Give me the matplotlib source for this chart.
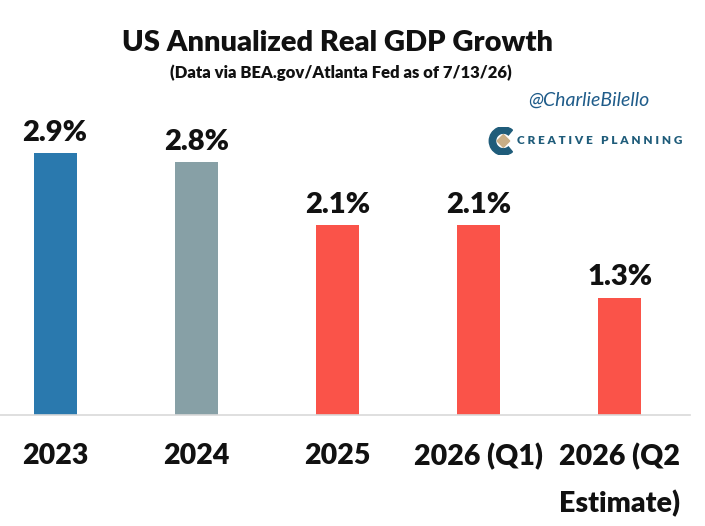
import matplotlib
matplotlib.use("Agg")
import matplotlib.pyplot as plt
from matplotlib.patches import Wedge, Polygon

categories = ["2023", "2024", "2025", "2026 (Q1)", "2026 (Q2\nEstimate)"]
values = [2.9, 2.8, 2.1, 2.1, 1.3]
value_labels = ["2.9%", "2.8%", "2.1%", "2.1%", "1.3%"]
colors = ["#2A79AE", "#87A0A6", "#FA5349", "#FA5349", "#FA5349"]

FONT = ["Lato", "DejaVu Sans"]
W = "heavy"

fig = plt.figure(figsize=(7.05, 5.26), dpi=100)
ax = fig.add_axes([0.0, 0.211, 0.979, 0.601])

x = list(range(len(categories)))
ax.bar(x, values, width=0.305, color=colors, zorder=2)
ax.set_xlim(-0.39, 4.5)
ax.set_ylim(0, 3.5)

for xi, v, lab in zip(x, values, value_labels):
    ax.annotate(lab, (xi, v), xytext=(0, 9), textcoords="offset points",
                ha="center", va="baseline", fontsize=21, fontweight=W,
                family=FONT, color="#111111")

ax.set_xticks(x)
ax.set_xticklabels(categories, fontsize=20.5, fontweight=W, family=FONT,
                   color="#111111")
for t in ax.get_xticklabels():
    t.set_linespacing(1.9)
ax.tick_params(axis="x", length=0, pad=20)
ax.set_yticks([])
for s in ["left", "right", "top"]:
    ax.spines[s].set_visible(False)
ax.spines["bottom"].set_color("#D9D9D9")
ax.spines["bottom"].set_linewidth(1.2)

fig.text(0.479, 0.918, "US Annualized Real GDP Growth", ha="center", va="center",
         fontsize=21, fontweight=W, family=FONT, color="#111111")
fig.text(0.484, 0.862, "(Data via BEA.gov/Atlanta Fed as of 7/13/26)", ha="center",
         va="center", fontsize=12, fontweight=W, family=FONT, color="#111111")

fig.text(0.835, 0.810, "@CharlieBilello", ha="center", va="center", fontsize=14,
         style="italic", family=FONT, color="#1F5C8A")
fig.text(0.733, 0.732, "C R E A T I V E   P L A N N I N G", ha="left", va="center",
         fontsize=8.5, fontweight=W, family=FONT, color="#1F5C7A")

# logo icon
cx, cy = 0.711, 0.732
logo_ax = fig.add_axes([cx - 0.02, cy - 0.027, 0.04, 0.054])
logo_ax.set_xlim(-1, 1); logo_ax.set_ylim(-1, 1); logo_ax.axis("off")
logo_ax.add_patch(Wedge((0.15, 0), 1.0, 50, 310, width=0.45, color="#1F5C7A"))
logo_ax.add_patch(Polygon([[0.15, 0.45], [0.6, 0], [0.15, -0.45], [-0.3, 0]],
                          closed=True, color="#C8AE86"))

fig.savefig("out.png", dpi=100)
